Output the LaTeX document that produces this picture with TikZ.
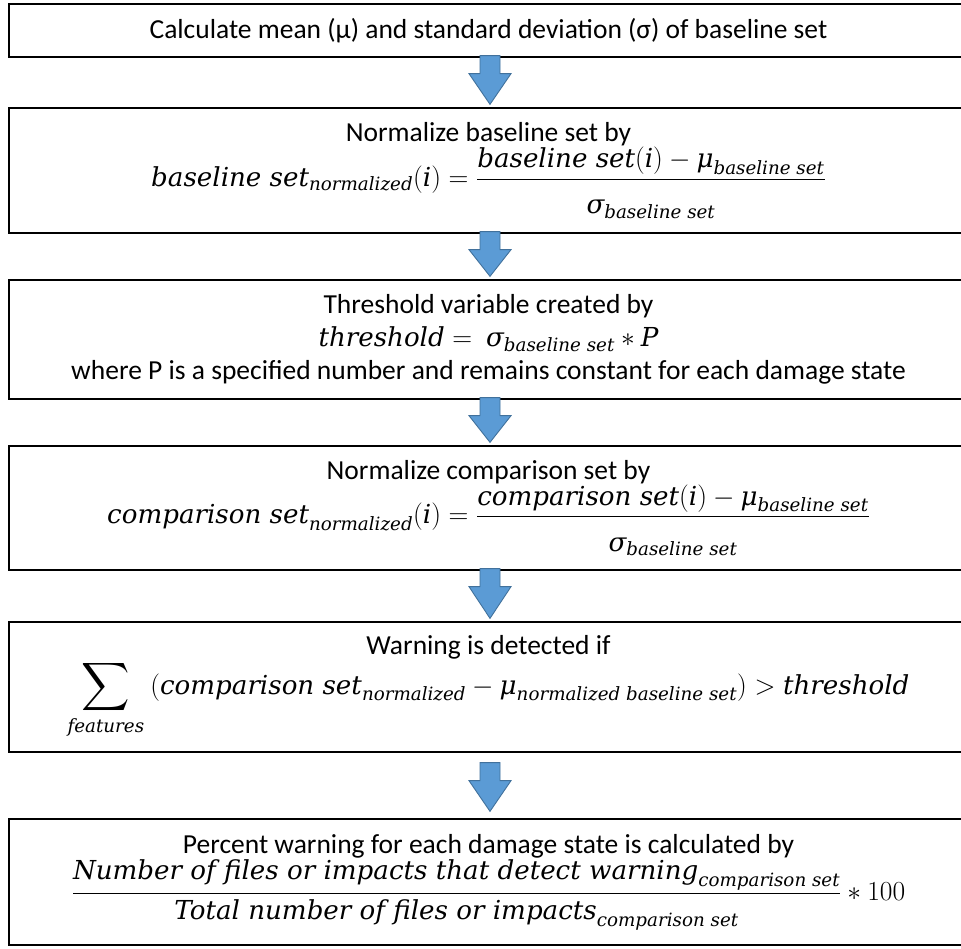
\RequirePackage{fix-cm}
\documentclass[tikz,border=0pt]{standalone}
\usepackage{amsmath}
\usepackage[no-math]{fontspec}
\setmainfont{Carlito}
\newfontfamily\mw[Scale=0.95]{DejaVu Serif}
\newcommand{\mv}[1]{\text{\mw\itshape #1}}
\newcommand{\dstrut}{\rule{0pt}{31pt}}
\newcommand{\bigsum}{\mathop{\vcenter{\hbox{\scalebox{1.35}{$\displaystyle\sum$}}}}}
\usetikzlibrary{calc}
\definecolor{arrowblue}{HTML}{5B9BD5}
\definecolor{arrowedge}{HTML}{41719C}
\tikzset{
  stepbox/.style={draw=black, line width=1.3pt, minimum width=959pt, minimum height=#1,
    align=center, inner sep=0pt, font=\fontsize{27.5}{33}\selectfont},
  blockarrow/.style={fill=arrowblue, draw=arrowedge, line width=0.9pt, line join=miter},
}
\newcommand{\flowarrow}[4]{%
  \filldraw[blockarrow] let \p1=($(#1.south)+(1.5,#3)$), \p2=($(#2.north)+(1.5,#4)$) in
    (\x1-10pt,\y1) -- (\x1+10pt,\y1) -- (\x1+10pt,\y1-18pt) -- (\x1+21pt,\y1-18pt)
    -- (\x1,\y2) -- (\x1-21pt,\y1-18pt) -- (\x1-10pt,\y1-18pt) -- cycle;}
\begin{document}
\begin{tikzpicture}[x=1pt,y=-1pt]
\useasboundingbox (0,0) rectangle (961,948);
\fill[white] (0,0) rectangle (961,948);

\node[stepbox=53pt] (b1) at (488.5,30.5)
  {Calculate mean (μ) and standard deviation (σ) of baseline set};

\node[stepbox=125pt] (b2) at (488.5,170.5)
  {Normalize baseline set by\\
   $\mv{baseline set}_{\mv{normalized}}(\mv{i})=\dfrac{\mv{baseline set}(\mv{i})-\mv{μ}_{\mv{baseline set}}}{\dstrut\mv{σ}_{\mv{baseline set}}}$};

\node[stepbox=119pt] (b3) at (488.5,339.5)
  {Threshold variable created by\\
   $\mv{threshold}=\ \mv{σ}_{\mv{baseline set}}*\mv{P}$\\
   where P is a specified number and remains constant for each damage state};

\node[stepbox=124pt] (b4) at (488.5,508)
  {Normalize comparison set by\\
   $\mv{comparison set}_{\mv{normalized}}(\mv{i})=\dfrac{\mv{comparison set}(\mv{i})-\mv{μ}_{\mv{baseline set}}}{\dstrut\mv{σ}_{\mv{baseline set}}}$};

\node[stepbox=130pt] (b5) at (488.5,687)
  {Warning is detected if\\
   $\bigsum\limits_{\mv{features}}\ (\mv{comparison set}_{\mv{normalized}}-\mv{μ}_{\mv{normalized baseline set}})>\mv{threshold}$};

\node[stepbox=126pt] (b6) at (488.5,882)
  {Percent warning for each damage state is calculated by\\[1pt]
   $\dfrac{\mv{Number of files or impacts that detect warning}_{\mv{comparison set}}}{\mv{Total number of files or impacts}_{\mv{comparison set}}}*100$};

\flowarrow{b1}{b2}{-2}{-3}
\flowarrow{b2}{b3}{-2}{-3}
\flowarrow{b3}{b4}{-2}{-3}
\flowarrow{b4}{b5}{-2}{-3}
\flowarrow{b5}{b6}{10}{-7}
\end{tikzpicture}
\end{document}
